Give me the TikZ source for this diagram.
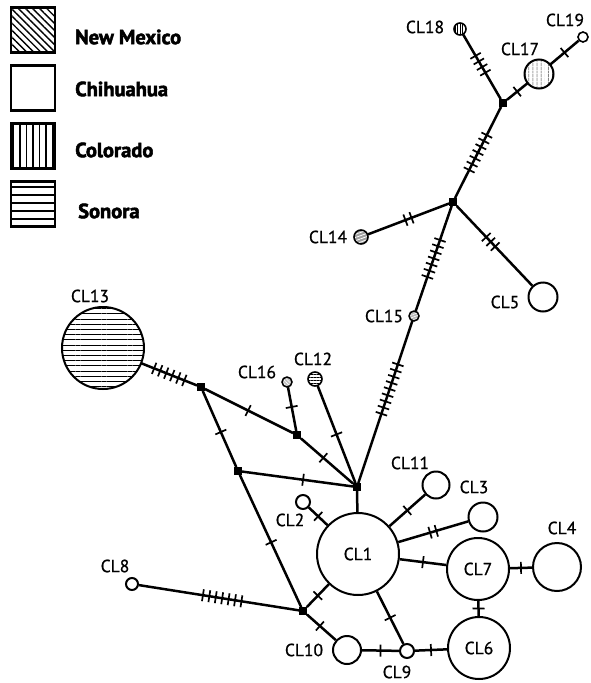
\documentclass[tikz,border=0pt]{standalone}
\usepackage{fontspec}
\setmainfont{PT Sans}
\newfontfamily\legfont{PT Sans}[BoldFeatures={FakeBold=2.5}]
\newfontfamily\labfont{PT Sans}[FakeBold=0.9]
\usetikzlibrary{patterns.meta, decorations.markings}

\begin{document}
\begin{tikzpicture}[x=1pt, y=-1pt,
  hap/.style={circle, draw=black, line width=2pt, fill=white, inner sep=0pt, minimum size=#1},
  junc/.style={rectangle, fill=black, inner sep=0pt, minimum size=7.5pt},
  lab/.style={inner sep=0pt, font=\labfont\fontsize{17.5}{17.5}\selectfont},
  legbox/.style={rectangle, draw=black, line width=2.8pt, minimum width=44pt, minimum height=45pt, inner sep=0pt},
  legtext/.style={anchor=west, inner sep=0pt, font=\legfont\fontsize{20.5}{20.5}\selectfont\bfseries},
  edge/.style={line width=2.5pt},
  tickline/.style={line width=1.7pt},
  mut/.style 2 args={postaction={decorate, decoration={markings,
      mark=at position #2 with {\foreach \k in {1,...,#1}{\draw[tickline] ({(\k-(#1+1)/2)*6.5},-6) -- ++(0,12);}}}}},
]
\useasboundingbox (0,0) rectangle (591,683);

% legend
\node[legbox, pattern={Lines[angle=-45, distance=5pt, line width=1.4pt]}] (boxNM) at (33,30) {};
\node[legbox] (boxCH) at (33,88) {};
\node[legbox, pattern={Lines[angle=90, distance=6.6pt, line width=1.5pt]}] (boxCO) at (33,146) {};
\node[legbox, pattern={Lines[angle=0, distance=8pt, line width=1.5pt]}] (boxSO) at (33,204) {};
\node[legtext] (txtNM) at (75,37) {New Mexico};
\node[legtext] (txtCH) at (75,89) {Chihuahua};
\node[legtext] (txtCO) at (75,150) {Colorado};
\node[legtext] (txtSO) at (78,211) {Sonora};

% median vectors
\node[junc] (h1) at (357,487) {};
\node[junc] (h2) at (303,611) {};
\node[junc] (h3) at (238,471) {};
\node[junc] (h4) at (201,387) {};
\node[junc] (h5) at (297,435) {};
\node[junc] (h6) at (453,202) {};
\node[junc] (h7) at (503,103) {};

% haplotypes
\node[hap=82pt, lab] (cl1) at (358,554) {CL1};
\node[hap=14pt] (cl2) at (303,502) {};
\node[hap=29pt] (cl3) at (483,517) {};
\node[hap=48pt] (cl4) at (557,567) {};
\node[hap=29pt] (cl5) at (543,297) {};
\node[hap=62pt, lab] (cl6) at (479,648) {CL6};
\node[hap=62pt, lab] (cl7) at (478,569) {CL7};
\node[hap=12pt] (cl8) at (132,584) {};
\node[hap=14pt] (cl9) at (407,651) {};
\node[hap=28pt] (cl10) at (347,650) {};
\node[hap=27pt] (cl11) at (436,485) {};
\node[hap=14pt, line width=1.6pt, pattern={Lines[angle=0, distance=3pt, line width=0.8pt]}] (cl12) at (315,379) {};
\node[hap=82pt, pattern={Lines[angle=0, distance=5.2pt, line width=0.8pt]}] (cl13) at (103,348) {};
\node[hap=14pt, line width=1.6pt, preaction={fill=gray!75}, pattern={Lines[angle=20, distance=3pt, line width=0.8pt]}, pattern color=white] (cl14) at (361,237) {};
\node[hap=10pt, line width=1.5pt, preaction={fill=gray!55}, pattern={Lines[angle=20, distance=2.5pt, line width=0.6pt]}, pattern color=white] (cl15) at (414,316) {};
\node[hap=10pt, line width=1.5pt, preaction={fill=gray!50}, pattern={Lines[angle=-45, distance=2.5pt, line width=0.6pt]}, pattern color=white] (cl16) at (287,382) {};
\node[hap=29pt, pattern={Lines[angle=90, distance=4pt, line width=0.8pt]}] (cl17) at (539,74) {};
\node[hap=12pt, line width=1.6pt, pattern={Lines[angle=90, distance=2.5pt, line width=0.7pt]}] (cl18) at (460,29) {};
\node[hap=10pt, line width=1.6pt] (cl19) at (583,37) {};

% labels
\node[lab] (l2) at (290,520) {CL2};
\node[lab] (l3) at (474,487) {CL3};
\node[lab] (l4) at (562,528) {CL4};
\node[lab] (l5) at (505,302) {CL5};
\node[lab] (l8) at (115,566) {CL8};
\node[lab] (l9) at (397,672) {CL9};
\node[lab] (l10) at (304,650) {CL10};
\node[lab] (l11) at (410,463) {CL11};
\node[lab] (l12) at (313,359) {CL12};
\node[lab] (l13) at (90,296) {CL13};
\node[lab] (l14) at (328,237) {CL14};
\node[lab] (l15) at (384,316) {CL15};
\node[lab] (l16) at (257,372) {CL16};
\node[lab] (l17) at (520,49) {CL17};
\node[lab] (l18) at (425,27) {CL18};
\node[lab] (l19) at (565,20) {CL19};

% connections with mutational steps
\draw[edge, mut={6}{0.5}] (cl13) -- (h4);
\draw[edge, mut={1}{0.49}] (h4) -- (h5);
\draw[edge, mut={1}{0.43}] (h5) -- (h1);
\draw[edge, mut={1}{0.45}] (cl16) -- (h5);
\draw[edge, mut={1}{0.5}] (cl12) -- (h1);
\draw[edge, mut={1}{0.54}] (h4) -- (h3);
\draw[edge, mut={1}{0.55}] (h3) -- (h1);
\draw[edge, mut={1}{0.51}] (h3) -- (h2);
\draw[edge, mut={7}{0.52}] (cl8) -- (h2);
\draw[edge, mut={1}{0.5}] (h2) -- (cl1);
\draw[edge, mut={1}{0.45}] (h2) -- (cl10);
\draw[edge, mut={1}{0.5}] (cl10) -- (cl9);
\draw[edge, mut={1}{0.5}] (cl9) -- (cl6);
\draw[edge, mut={1}{0.5}] (cl1) -- (cl9);
\draw[edge, mut={1}{0.5}] (cl7) -- (cl6);
\draw[edge, mut={1}{0.5}] (cl7) -- (cl4);
\draw[edge, mut={1}{0.5}] (cl1) -- (cl7);
\draw[edge, mut={2}{0.5}] (cl1) -- (cl3);
\draw[edge, mut={1}{0.5}] (cl1) -- (cl11);
\draw[edge, mut={1}{0.5}] (cl1) -- (cl2);
\draw[edge] (h1) -- (cl1);
\draw[edge, mut={9}{0.58}] (h1) -- (cl15);
\draw[edge, mut={7}{0.5}] (h6) -- (cl15);
\draw[edge, mut={2}{0.5}] (cl14) -- (h6);
\draw[edge, mut={3}{0.45}] (h6) -- (cl5);
\draw[edge, mut={7}{0.5}] (h6) -- (h7);
\draw[edge, mut={4}{0.54}] (h7) -- (cl18);
\draw[edge, mut={1}{0.5}] (h7) -- (cl17);
\draw[edge, mut={1}{0.5}] (cl17) -- (cl19);
\end{tikzpicture}
\end{document}
